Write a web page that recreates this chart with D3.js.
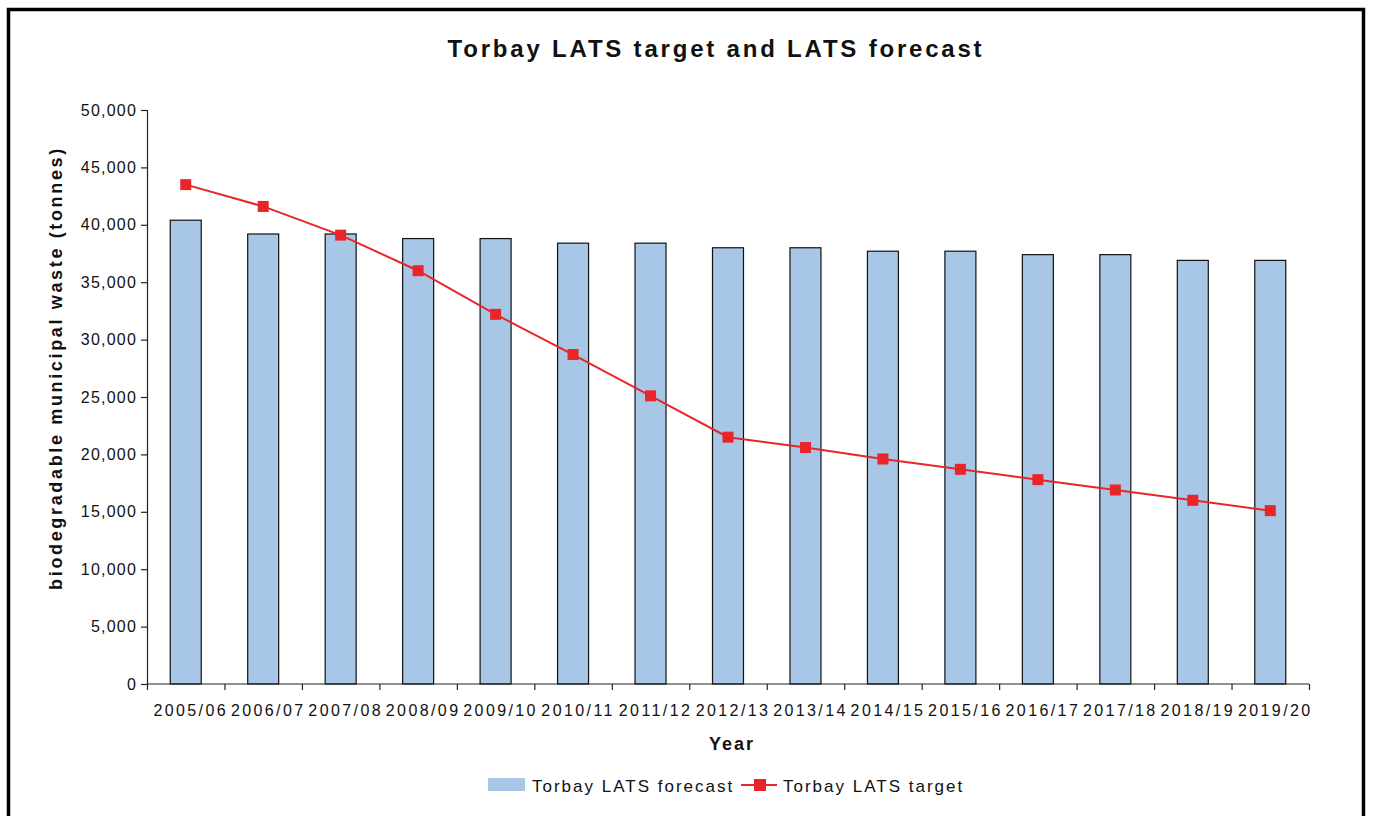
<!DOCTYPE html>
<html>
<head>
<meta charset="utf-8">
<script src="https://cdn.jsdelivr.net/npm/d3@7"></script>
<style>
  body { margin: 0; background: #fff; }
  text { font-family: "Liberation Sans", Arial, sans-serif; fill: #111; }
</style>
</head>
<body>
<div id="plot"></div>
<script>
// data
var years = ["2005/06", "2006/07", "2007/08", "2008/09", "2009/10", "2010/11", "2011/12",
  "2012/13", "2013/14", "2014/15", "2015/16", "2016/17", "2017/18", "2018/19", "2019/20"];
var forecast = [40400, 39200, 39200, 38800, 38800, 38400, 38400, 38000, 38000,
  37700, 37700, 37400, 37400, 36900, 36900];
var target = [43500, 41600, 39100, 36000, 32200, 28700, 25100, 21500, 20600,
  19600, 18700, 17800, 16900, 16000, 15100];
var yTicks = [0, 5000, 10000, 15000, 20000, 25000, 30000, 35000, 40000, 45000, 50000];

var W = 1373, H = 816;
var margin = {top: 110, right: 64, bottom: 132, left: 147};
var width = W - margin.left - margin.right,
    height = H - margin.top - margin.bottom;

var root = d3.select("#plot").append("svg")
  .attr("width", W)
  .attr("height", H);

// frame
root.append("rect")
  .attr("x", 8.5).attr("y", 9.5)
  .attr("width", 1355).attr("height", 900)
  .attr("fill", "none").attr("stroke", "#000").attr("stroke-width", 3.5);

root.append("text")
  .attr("x", 716).attr("y", 57)
  .attr("text-anchor", "middle")
  .style("font-size", "24px").style("font-weight", "bold")
  .style("letter-spacing", "2.8px")
  .text("Torbay LATS target and LATS forecast");

var svg = root.append("g")
  .attr("transform", "translate(" + margin.left + "," + margin.top + ")");

var x = d3.scaleBand().domain(years).range([0, width]).padding(0);
var xi = d3.scaleLinear().domain([0, years.length]).range([0, width]);
var y = d3.scaleLinear().domain([0, 50000]).range([height, 0]);
var bw = x.bandwidth() * 0.4;

// bars
svg.selectAll(".bar")
  .data(forecast)
  .enter()
  .append("rect")
    .attr("class", "bar")
    .attr("x", (d, i) => x(years[i]) + x.bandwidth() / 2 - bw / 2)
    .attr("y", d => y(d))
    .attr("width", bw)
    .attr("height", d => height - y(d))
    .attr("fill", "#a8c7e6")
    .attr("stroke", "#111")
    .attr("stroke-width", 1.2);

// y axis
var yAxis = svg.append("g")
  .call(d3.axisLeft(y).tickValues(yTicks).tickSize(6).tickPadding(5).tickFormat(d3.format(",")));
yAxis.selectAll("text").style("font-size", "16px").style("letter-spacing", "1.2px").attr("dx", "1px");

// x axis: boundary ticks + labels
var xAxis = svg.append("g")
  .attr("transform", "translate(0," + height + ")")
  .call(d3.axisBottom(xi).tickValues(d3.range(years.length + 1)).tickSize(6).tickFormat(""));
xAxis.select(".domain").attr("d", "M0,0H" + width);
var xLab = svg.append("g")
  .attr("transform", "translate(0," + height + ")")
  .call(d3.axisBottom(x).tickSize(0).tickPadding(21));
xLab.select(".domain").remove();
xLab.selectAll("text").style("font-size", "16px").style("letter-spacing", "2.4px")
  .attr("dx", "5px");

svg.selectAll(".domain, .tick line").attr("stroke", "#222").attr("stroke-width", 1.2);

// line
var line = d3.line()
  .x((d, i) => x(years[i]) + x.bandwidth() / 2)
  .y(d => y(d));
svg.append("path")
  .datum(target)
  .attr("d", line)
  .attr("fill", "none")
  .attr("stroke", "#e8262a")
  .attr("stroke-width", 2);
svg.selectAll(".pt")
  .data(target)
  .enter()
  .append("rect")
    .attr("class", "pt")
    .attr("x", (d, i) => x(years[i]) + x.bandwidth() / 2 - 5.5)
    .attr("y", d => y(d) - 5.5)
    .attr("width", 11).attr("height", 11)
    .attr("fill", "#e8262a");

// axis titles
root.append("text")
  .attr("x", 732).attr("y", 750)
  .attr("text-anchor", "middle")
  .style("font-size", "18px").style("font-weight", "bold").style("letter-spacing", "2px")
  .text("Year");
root.append("text")
  .attr("transform", "translate(62,368) rotate(-90)")
  .attr("text-anchor", "middle")
  .style("font-size", "18px").style("font-weight", "bold").style("letter-spacing", "2.65px")
  .text("biodegradable municipal waste (tonnes)");

// legend
var lg = root.append("g");
lg.append("rect").attr("x", 488).attr("y", 778).attr("width", 37).attr("height", 13).attr("fill", "#a8c7e6");
lg.append("text").attr("x", 532).attr("y", 792).style("font-size", "17px").style("letter-spacing", "2px")
  .text("Torbay LATS forecast");
lg.append("line").attr("x1", 741).attr("x2", 777).attr("y1", 785).attr("y2", 785)
  .attr("stroke", "#e8262a").attr("stroke-width", 2);
lg.append("rect").attr("x", 754).attr("y", 779).attr("width", 12).attr("height", 12).attr("fill", "#e8262a");
lg.append("text").attr("x", 783).attr("y", 792).style("font-size", "17px").style("letter-spacing", "2px")
  .text("Torbay LATS target");
</script>
</body>
</html>
